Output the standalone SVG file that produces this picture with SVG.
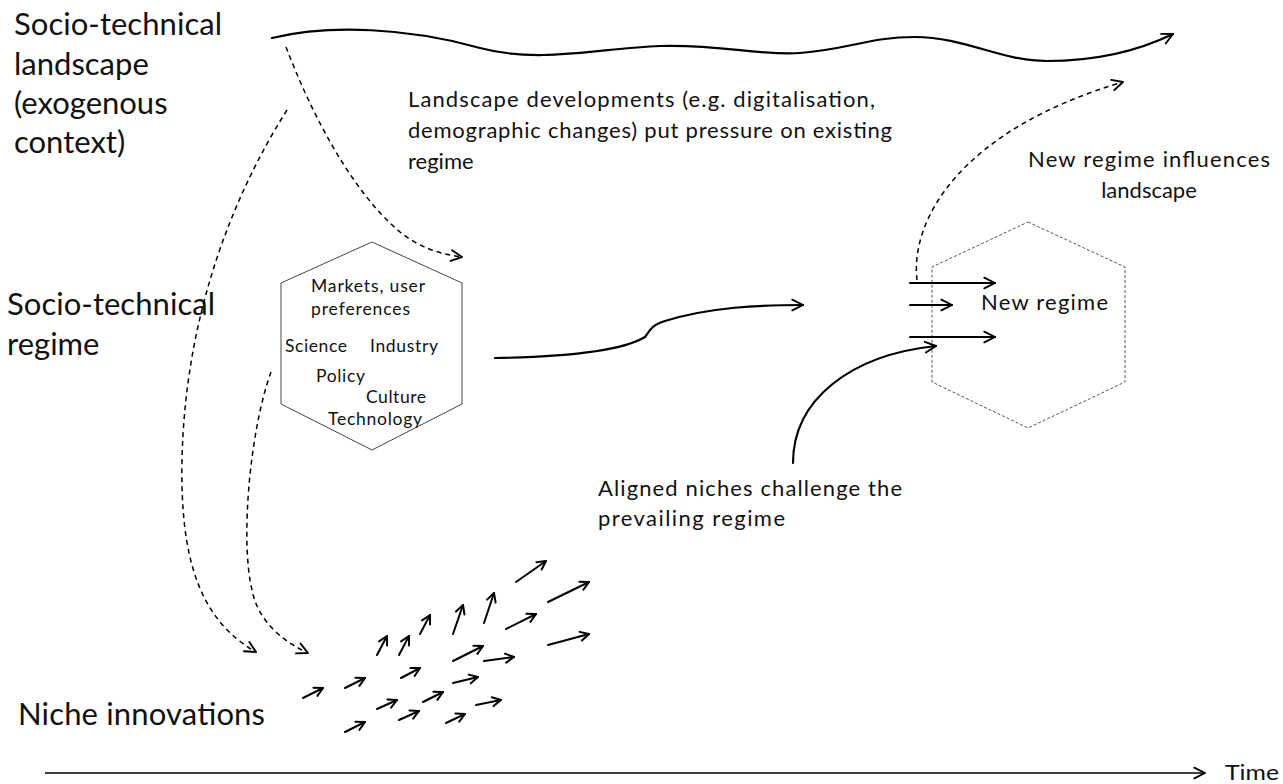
<svg xmlns="http://www.w3.org/2000/svg" width="1283" height="784" viewBox="0 0 1283 784">
<style>
text{font-family:Lato,"Open Sans","Liberation Sans",sans-serif;fill:#111}
.big{font-size:31px}
.mid{font-size:22px}
.sm{font-size:17.5px}
.solid{fill:none;stroke:#000;stroke-width:2.2;stroke-linecap:round}
.dash{fill:none;stroke:#000;stroke-width:1.5;stroke-dasharray:5 4}
.na{fill:none;stroke:#000;stroke-width:2;stroke-linecap:round}
</style>
<defs>
<marker id="ah" viewBox="0 0 14 14" refX="12" refY="7" markerWidth="15" markerHeight="15" markerUnits="userSpaceOnUse" orient="auto">
<path d="M2,2 L12,7 L2,12" fill="none" stroke="#000" stroke-width="1.8" stroke-linecap="round" stroke-linejoin="round"/>
</marker>
<marker id="ahs" viewBox="0 0 12 12" refX="10.5" refY="6" markerWidth="12" markerHeight="12" markerUnits="userSpaceOnUse" orient="auto">
<path d="M2,1.5 L10.5,6 L2,10.5" fill="none" stroke="#000" stroke-width="2" stroke-linecap="round" stroke-linejoin="round"/>
</marker>
</defs>
<rect width="1283" height="784" fill="#fff"/>

<g id="label-landscape">
<text class="big" x="14" y="35" textLength="208">Socio-technical</text>
<text class="big" x="14" y="74.5">landscape</text>
<text class="big" x="14" y="114">(exogenous</text>
<text class="big" x="14" y="153">context)</text>
</g>
<g id="label-regime">
<text class="big" x="7" y="315" textLength="208">Socio-technical</text>
<text class="big" x="7" y="355">regime</text>
</g>
<g id="label-niche">
<text class="big" x="18" y="725" textLength="247">Niche innovations</text>
</g>

<g id="note-landscape">
<text class="mid" x="408" y="107" textLength="467">Landscape developments (e.g. digitalisation,</text>
<text class="mid" x="408" y="138" textLength="484">demographic changes) put pressure on existing</text>
<text class="mid" x="408" y="169">regime</text>
</g>
<g id="note-influence">
<text class="mid" x="1149" y="167" text-anchor="middle" textLength="242">New regime influences</text>
<text class="mid" x="1149" y="198" text-anchor="middle">landscape</text>
</g>
<g id="note-aligned">
<text class="mid" x="598" y="496" textLength="304">Aligned niches challenge the</text>
<text class="mid" x="598" y="526" textLength="187">prevailing regime</text>
</g>

<g id="regime">
<polygon points="372,242 462,283 462,404 372,450 281,404 281,283" fill="none" stroke="#444" stroke-width="1"/>
<text class="sm" x="311" y="292" textLength="114">Markets, user</text>
<text class="sm" x="311" y="315" textLength="99">preferences</text>
<text class="sm" x="285" y="352" textLength="62">Science</text>
<text class="sm" x="370" y="352" textLength="68">Industry</text>
<text class="sm" x="316" y="382" textLength="49">Policy</text>
<text class="sm" x="366" y="403" textLength="60">Culture</text>
<text class="sm" x="328" y="425" textLength="94">Technology</text>
</g>

<g id="new-regime">
<polygon points="1028,222 1125,267 1125,382 1028,428 932,382 932,267" fill="none" stroke="#555" stroke-width="1" stroke-dasharray="3 2"/>
<text class="mid" x="981" y="310" textLength="127">New regime</text>
</g>

<g id="time-axis">
<line x1="45" y1="773" x2="1205" y2="773" stroke="#000" stroke-width="1.6" marker-end="url(#ah)"/>
<text x="1225" y="780" font-size="21" textLength="54" lengthAdjust="spacingAndGlyphs">Time</text>
</g>

<g id="connectors">
<path class="solid" d="M272,38 C330,24 410,28 480,48 C540,64 600,48 660,46 C720,44 760,56 800,53 C850,49 870,37 915,37 C965,37 1000,61 1047,61 C1100,61 1140,50 1173,34" marker-end="url(#ah)"/>
<path class="dash" d="M286,47 C310,110 350,190 400,232 C420,248 440,254 462,257" marker-end="url(#ah)"/>
<path class="dash" d="M287,110 C230,200 185,320 182,460 C180,560 200,620 256,652" marker-end="url(#ah)"/>
<path class="dash" d="M271,372 C250,430 240,540 252,590 C258,620 280,640 308,653" marker-end="url(#ah)"/>
<path class="solid" d="M495,358 C560,357 620,352 645,337 C650,330 652,325 665,321 C710,307 760,305 803,305" marker-end="url(#ah)"/>
<path class="dash" d="M917,280 C910,220 960,130 1123,82" marker-end="url(#ah)"/>
<path class="solid" d="M793,463 C793,400 850,355 936,346" marker-end="url(#ah)"/>
<line class="solid" x1="910" y1="283" x2="995" y2="283" marker-end="url(#ah)"/>
<line class="solid" x1="910" y1="305" x2="952" y2="305" marker-end="url(#ah)"/>
<line class="solid" x1="910" y1="337" x2="995" y2="337" marker-end="url(#ah)"/>
</g>

<g id="niche-arrows">
<line class="na" x1="303" y1="698" x2="323" y2="688" marker-end="url(#ahs)"/>
<line class="na" x1="345" y1="688" x2="365" y2="678" marker-end="url(#ahs)"/>
<line class="na" x1="345" y1="732" x2="365" y2="722" marker-end="url(#ahs)"/>
<line class="na" x1="377" y1="709" x2="397" y2="700" marker-end="url(#ahs)"/>
<line class="na" x1="399" y1="720" x2="419" y2="711" marker-end="url(#ahs)"/>
<line class="na" x1="377" y1="655" x2="387" y2="636" marker-end="url(#ahs)"/>
<line class="na" x1="399" y1="655" x2="409" y2="636" marker-end="url(#ahs)"/>
<line class="na" x1="401" y1="678" x2="420" y2="668" marker-end="url(#ahs)"/>
<line class="na" x1="420" y1="634" x2="430" y2="615" marker-end="url(#ahs)"/>
<line class="na" x1="423" y1="702" x2="443" y2="692" marker-end="url(#ahs)"/>
<line class="na" x1="453" y1="634" x2="463" y2="605" marker-end="url(#ahs)"/>
<line class="na" x1="453" y1="683" x2="478" y2="677" marker-end="url(#ahs)"/>
<line class="na" x1="453" y1="661" x2="483" y2="646" marker-end="url(#ahs)"/>
<line class="na" x1="446" y1="723" x2="465" y2="714" marker-end="url(#ahs)"/>
<line class="na" x1="484" y1="623" x2="494" y2="593" marker-end="url(#ahs)"/>
<line class="na" x1="484" y1="661" x2="514" y2="657" marker-end="url(#ahs)"/>
<line class="na" x1="476" y1="705" x2="501" y2="700" marker-end="url(#ahs)"/>
<line class="na" x1="506" y1="629" x2="536" y2="614" marker-end="url(#ahs)"/>
<line class="na" x1="516" y1="582" x2="546" y2="561" marker-end="url(#ahs)"/>
<line class="na" x1="548" y1="602" x2="589" y2="582" marker-end="url(#ahs)"/>
<line class="na" x1="548" y1="645" x2="589" y2="634" marker-end="url(#ahs)"/>
</g>
</svg>
